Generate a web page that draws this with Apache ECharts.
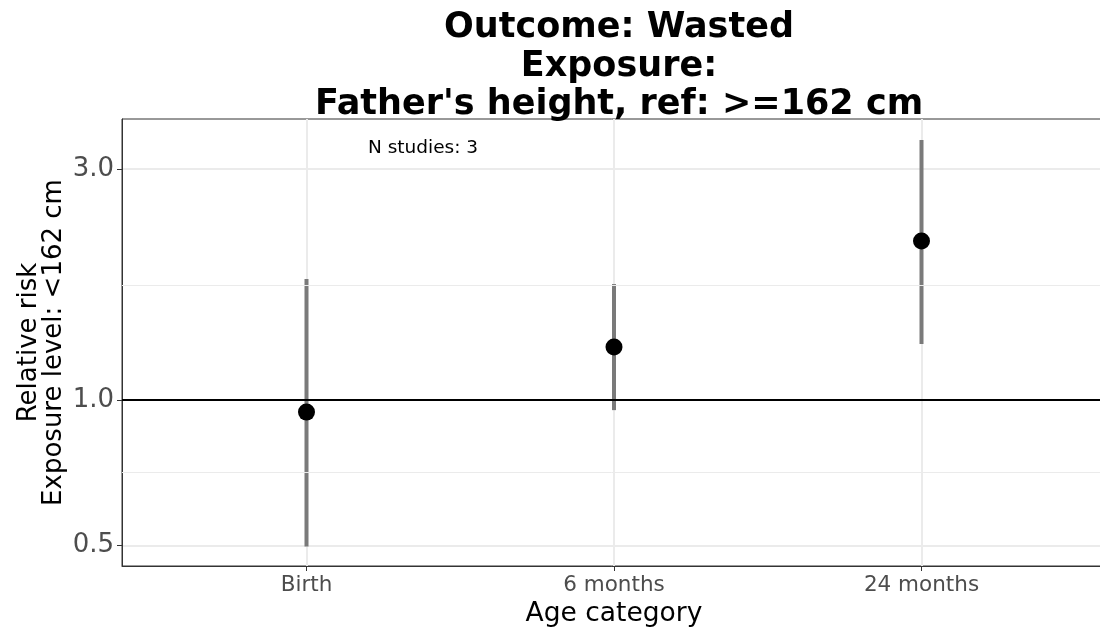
<!DOCTYPE html>
<html>
<head>
<meta charset="utf-8">
<script src="https://cdn.jsdelivr.net/npm/echarts@6/dist/echarts.min.js"></script>
<style>
html,body{margin:0;padding:0;background:#fff;}
#chart{width:1100px;height:629px;}
</style>
</head>
<body>
<div id="chart"></div>
<script>
const categories = ['Birth', '6 months', '24 months'];
const estimates = [0.944, 1.287, 2.131];
const lowerCI = [0.498, 0.953, 1.305];
const upperCI = [1.778, 1.736, 3.445];
const yTicks = [0.5, 1.0, 3.0];
const yMinorGrid = [0.7071, 1.732];
const refLine = 1.0;
const annotation = 'N studies: 3';

const font = 'DejaVu Sans';
const chart = echarts.init(document.getElementById('chart'), null, {renderer: 'canvas'});

const xPos = categories.map((c, i) => i + 1);

chart.setOption({
  animation: false,
  backgroundColor: '#ffffff',
  title: {
    text: 'Outcome: Wasted\nExposure:\nFather\'s height, ref: >=162 cm',
    left: 614,
    textAlign: 'center',
    top: 4,
    textStyle: {fontFamily: font, fontWeight: 'bold', fontSize: 35, lineHeight: 38.5, color: '#000'}
  },
  grid: {left: 122, top: 119, right: -6, bottom: 63, show: true, borderColor: '#333333', borderWidth: 1,
    backgroundColor: 'transparent', containLabel: false, outerBoundsMode: 'none'},
  xAxis: {
    type: 'value',
    min: 0.4,
    max: 3.6,
    name: 'Age category',
    nameLocation: 'middle',
    nameGap: 28,
    nameTextStyle: {fontFamily: font, fontSize: 26.5, color: '#000'},
    axisLine: {show: true, lineStyle: {color: '#333333', width: 1}},
    axisTick: {show: true, length: 5, customValues: xPos, lineStyle: {color: '#333333', width: 1}},
    axisLabel: {customValues: xPos, fontFamily: font, fontSize: 21.5, color: '#4d4d4d', margin: 8,
      formatter: v => categories[Math.round(v) - 1] || ''},
    splitLine: {show: true, lineStyle: {color: '#ebebeb', width: 2}}
  },
  yAxis: {
    type: 'log',
    logBase: 10,
    min: 0.454,
    max: 3.807,
    name: 'Relative risk\nExposure level: <162 cm',
    nameLocation: 'middle',
    nameRotate: 90,
    nameGap: 55,
    nameMoveOverlap: false,
    nameTextStyle: {fontFamily: font, fontSize: 26, lineHeight: 25, color: '#000'},
    axisLine: {show: true, lineStyle: {color: '#333333', width: 1}},
    axisTick: {show: true, length: 5, customValues: yTicks, lineStyle: {color: '#333333', width: 1}},
    axisLabel: {customValues: yTicks, fontFamily: font, fontSize: 26, color: '#4d4d4d', margin: 8,
      formatter: v => Number(v).toFixed(1)},
    splitLine: {show: true, lineStyle: {color: '#ebebeb', width: 2}}
  },
  graphic: [{
    type: 'text',
    left: 368,
    top: 139,
    style: {text: annotation, fontFamily: font, fontSize: 18.5, fill: '#000'}
  }],
  series: [
    {
      type: 'line',
      data: [],
      silent: true,
      z: 1,
      markLine: {
        silent: true,
        symbol: 'none',
        label: {show: false},
        data: yMinorGrid.map(v => ({yAxis: v, lineStyle: {color: '#ebebeb', width: 1, type: 'solid'}}))
          .concat([{yAxis: refLine, lineStyle: {color: '#000000', width: 2, type: 'solid'}}])
      }
    },
    {
      type: 'custom',
      z: 3,
      data: xPos.map((x, i) => [x, lowerCI[i], upperCI[i]]),
      encode: {x: 0, y: [1, 2]},
      renderItem: function (params, api) {
        const lo = api.coord([api.value(0), api.value(1)]);
        const hi = api.coord([api.value(0), api.value(2)]);
        return {
          type: 'line',
          shape: {x1: lo[0], y1: lo[1], x2: hi[0], y2: hi[1]},
          style: {stroke: '#7a7a7a', lineWidth: 4}
        };
      }
    },
    {
      type: 'scatter',
      z: 4,
      symbolSize: 17,
      itemStyle: {color: '#000000', opacity: 1},
      data: xPos.map((x, i) => [x, estimates[i]])
    }
  ]
});
</script>
</body>
</html>
